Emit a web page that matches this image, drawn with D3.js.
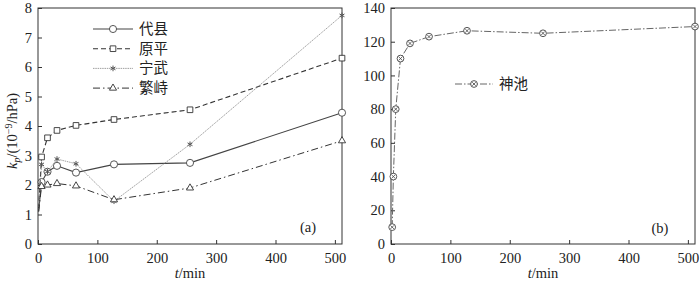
<!DOCTYPE html>
<html>
<head>
<meta charset="utf-8">
<script src="https://cdn.jsdelivr.net/npm/d3@7"></script>
<style>
  body { margin: 0; background: #fff; }
  text { font-family: "Liberation Serif", "DejaVu Serif", serif; fill: #222; }
</style>
</head>
<body>
<svg id="chart" width="700" height="283"></svg>
<script>
// panel (a): k_p vs time for four sites
const timesA = [1, 6, 16, 32, 64, 128, 256, 512]
const daixian = [1.1, 2.1, 2.45, 2.65, 2.42, 2.7, 2.75, 4.45]
const yuanping = [1.2, 2.95, 3.6, 3.85, 4.02, 4.22, 4.55, 6.3]
const ningwu = [1.1, 2.7, 2.45, 2.88, 2.72, 1.45, 3.38, 7.75]
const fanshi = [1.1, 1.95, 2.0, 2.05, 1.97, 1.5, 1.9, 3.5]
const namesA = ['代县', '原平', '宁武', '繁峙']
const ticksXA = [0, 100, 200, 300, 400, 500]
const ticksYA = [0, 1, 2, 3, 4, 5, 6, 7, 8]

// panel (b): 神池
const timesB = [2, 4, 8, 16, 32, 64, 128, 256, 512]
const shenchi = [10, 40, 80, 110, 119, 123, 126.5, 125, 129]
const ticksYB = [0, 20, 40, 60, 80, 100, 120, 140]

const svg = d3.select('#chart')
const ink = '#333'

function panel(left, right, top, bottom, yMax, yTicks) {
  const x = d3.scaleLinear().domain([0, 512]).range([left, right])
  const y = d3.scaleLinear().domain([0, yMax]).range([bottom, top])
  const g = svg.append('g')

  g.append('rect')
    .attr('x', left).attr('y', top)
    .attr('width', right - left).attr('height', bottom - top)
    .attr('fill', 'none').attr('stroke', ink).attr('stroke-width', 1)

  const xAxis = g.append('g')
    .attr('transform', `translate(0,${bottom})`)
    .call(d3.axisBottom(x).tickValues(ticksXA).tickSizeInner(-4).tickSizeOuter(0).tickPadding(9))
  const yAxis = g.append('g')
    .attr('transform', `translate(${left},0)`)
    .call(d3.axisLeft(y).tickValues(yTicks).tickSizeInner(-4).tickSizeOuter(0).tickPadding(6))

  for (const ax of [xAxis, yAxis]) {
    ax.select('.domain').remove()
    ax.selectAll('line').attr('stroke', ink)
    ax.selectAll('text')
      .style('font-family', '"Liberation Serif", serif')
      .style('font-size', '14.5px').attr('fill', '#222')
  }

  const lbl = g.append('text')
    .attr('x', (left + right) / 2).attr('y', 278)
    .attr('text-anchor', 'middle').style('font-size', '14.5px')
  lbl.append('tspan').attr('font-style', 'italic').text('t')
  lbl.append('tspan').text('/min')

  return { x, y, g }
}

function drawSeries(p, times, vals, style, skipFirst) {
  const pts = times.map((t, i) => [t, vals[i]])
  const line = d3.line().x(d => p.x(d[0])).y(d => p.y(d[1]))
  p.g.append('path')
    .attr('d', line(pts))
    .attr('fill', 'none')
    .attr('stroke', style.color)
    .attr('stroke-width', style.width)
    .attr('stroke-dasharray', style.dash)
  p.g.append('g').selectAll('g')
    .data(skipFirst ? pts.slice(1) : pts)
    .join('g')
    .attr('transform', d => `translate(${p.x(d[0])},${p.y(d[1])})`)
    .each(function () { marker(d3.select(this), style) })
}

function marker(sel, style) {
  const sym = d3.symbol().type(style.symbol).size(style.size)
  const stroked = style.symbol === d3.symbolAsterisk
  sel.append('path')
    .attr('d', sym())
    .attr('fill', stroked ? 'none' : '#fff')
    .attr('stroke', style.mColor || style.color)
    .attr('stroke-width', stroked ? 1 : 0.9)
  if (style.inner) {
    sel.append('path')
      .attr('d', d3.symbol().type(d3.symbolTimes).size(10)())
      .attr('fill', 'none').attr('stroke', style.mColor || style.color).attr('stroke-width', 0.8)
  }
}

const styles = [
  { color: '#444', width: 1.1, dash: null, symbol: d3.symbolCircle, size: 40 },
  { color: '#333', width: 1.1, dash: '5,3', symbol: d3.symbolSquare, size: 32 },
  { color: '#888', width: 0.8, dash: '1.5,0.8', symbol: d3.symbolAsterisk, size: 22, mColor: '#555' },
  { color: '#333', width: 1, dash: '7,3,1.5,3', symbol: d3.symbolTriangle, size: 22 }
]

// ---- panel (a)
const pa = panel(38, 342, 8, 244, 8, ticksYA)
const seriesA = [daixian, yuanping, ningwu, fanshi]
seriesA.forEach((vals, i) => drawSeries(pa, timesA, vals, styles[i], true))

const legA = pa.g.append('g')
namesA.forEach((name, i) => {
  const yy = 29 + i * 19.7
  const row = legA.append('g')
  row.append('line')
    .attr('x1', 93).attr('x2', 133).attr('y1', yy).attr('y2', yy)
    .attr('stroke', styles[i].color).attr('stroke-width', styles[i].width)
    .attr('stroke-dasharray', styles[i].dash)
  marker(row.append('g').attr('transform', `translate(113,${yy})`), styles[i])
  row.append('text')
    .attr('x', 139).attr('y', yy + 5)
    .style('font-family', '"Noto Sans CJK SC", sans-serif')
    .style('font-size', '14.5px')
    .attr('fill', '#333')
    .text(name)
})

pa.g.append('text')
  .attr('x', 308).attr('y', 232)
  .attr('text-anchor', 'middle').style('font-size', '14.5px')
  .text('(a)')

// y label for (a)
const yl = svg.append('text')
  .attr('transform', 'translate(17,131) rotate(-90)')
  .attr('text-anchor', 'middle')
  .style('font-size', '14.5px')
yl.append('tspan').attr('font-style', 'italic').text('k')
yl.append('tspan').attr('font-style', 'italic').attr('dy', 3).style('font-size', '10px').text('p')
yl.append('tspan').attr('dy', -3).text('/(10')
yl.append('tspan').attr('dy', -5).style('font-size', '10px').text('−9')
yl.append('tspan').attr('dy', 5).text('/hPa)')

// ---- panel (b)
const pb = panel(391, 695, 8, 244, 140, ticksYB)
const styleB = { color: '#666', width: 1, dash: '7,2,1.5,2', symbol: d3.symbolCircle, size: 36, inner: true, mColor: '#444' }
drawSeries(pb, timesB, shenchi, styleB, false)

const legB = pb.g.append('g')
legB.append('line')
  .attr('x1', 455).attr('x2', 493).attr('y1', 84).attr('y2', 84)
  .attr('stroke', styleB.color).attr('stroke-width', styleB.width)
  .attr('stroke-dasharray', styleB.dash)
marker(legB.append('g').attr('transform', 'translate(474,84)'), styleB)
legB.append('text')
  .attr('x', 499).attr('y', 89)
  .style('font-family', '"Noto Sans CJK SC", sans-serif')
  .style('font-size', '14.5px').attr('fill', '#333')
  .text('神池')

pb.g.append('text')
  .attr('x', 660).attr('y', 233)
  .attr('text-anchor', 'middle').style('font-size', '14.5px')
  .text('(b)')
</script>
</body>
</html>
